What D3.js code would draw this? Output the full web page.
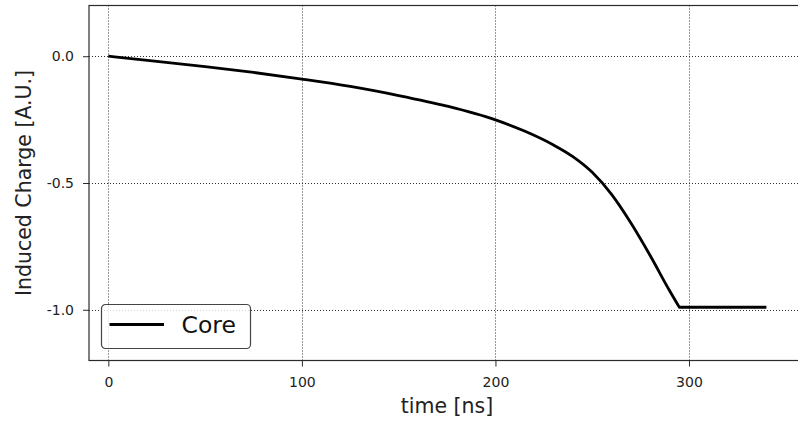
<!DOCTYPE html>
<html>
<head>
<meta charset="utf-8">
<script src="https://cdn.jsdelivr.net/npm/d3@7"></script>
<style>
  html, body { margin: 0; padding: 0; background: #fff; }
  svg { display: block; font-family: "DejaVu Sans", sans-serif; }
</style>
</head>
<body>
<svg id="chart" width="798" height="421"></svg>
<script>
// Induced charge on the core electrode vs drift time
const timeNs = [0, 25, 50, 75, 100, 125, 150, 175, 200, 215, 230, 240, 250, 260, 270, 280, 290, 295, 340];
const coreCharge = [0, -0.020, -0.041, -0.064, -0.090, -0.119, -0.155, -0.197, -0.251, -0.295, -0.350, -0.396, -0.458, -0.545, -0.658, -0.787, -0.925, -0.99, -0.99];
const seriesName = "Core";

const xTicks = [0, 100, 200, 300];
const yTicks = [0.0, -0.5, -1.0];
const xDomain = [-10, 357];
const yDomain = [-1.2, 0.2];

const plot = { left: 89, right: 799.3, top: 5.5, bottom: 360.5 };

const svg = d3.select("#chart");

const x = d3.scaleLinear().domain(xDomain).range([plot.left, plot.right]);
const y = d3.scaleLinear().domain(yDomain).range([plot.bottom, plot.top]);

const spineColor = "#2b2b2b";

// grid
const grid = svg.append("g").attr("class", "grid")
  .attr("stroke", "#000").attr("stroke-width", 1)
  .attr("stroke-dasharray", "1,2").attr("opacity", 0.8);
grid.selectAll("line.gx").data(xTicks).join("line")
  .attr("x1", d => Math.round(x(d)) + 0.5).attr("x2", d => Math.round(x(d)) + 0.5)
  .attr("y1", plot.top).attr("y2", plot.bottom);
grid.selectAll("line.gy").data(yTicks).join("line")
  .attr("y1", d => Math.round(y(d)) + 0.5).attr("y2", d => Math.round(y(d)) + 0.5)
  .attr("x1", plot.left).attr("x2", plot.right);

// data line: smooth drift section, then the flat plateau after collection
const pts = timeNs.map((t, i) => [t, coreCharge[i]]);
const kink = pts.findIndex(p => p[1] === d3.min(coreCharge));
const smooth = d3.line().x(d => x(d[0])).y(d => y(d[1])).curve(d3.curveMonotoneX);
const flat = d3.line().x(d => x(d[0])).y(d => y(d[1]));
const pathD = smooth(pts.slice(0, kink + 1)) + flat(pts.slice(kink)).replace(/^M/, "L");
svg.append("path")
  .attr("d", pathD)
  .attr("fill", "none").attr("stroke", "#000")
  .attr("stroke-width", 2.8).attr("stroke-linejoin", "round");

// axes
const xAxis = d3.axisBottom(x).tickValues(xTicks).tickFormat(d3.format("d"))
  .tickSizeInner(6).tickSizeOuter(0).tickPadding(8);
const gx = svg.append("g").attr("transform", `translate(0,${plot.bottom})`).call(xAxis);
const yAxis = d3.axisLeft(y).tickValues(yTicks).tickFormat(d => d3.format(".1f")(d).replace("−", "-"))
  .tickSizeInner(6).tickSizeOuter(0).tickPadding(9);
const gy = svg.append("g").attr("transform", `translate(${plot.left},0)`).call(yAxis);

[gx, gy].forEach(g => {
  g.select(".domain").remove();
  g.selectAll(".tick line").attr("stroke", spineColor).attr("stroke-width", 1);
  g.selectAll(".tick text").attr("fill", "#222").attr("font-size", 14)
    .attr("font-family", "DejaVu Sans, sans-serif");
});
gx.selectAll(".tick text").attr("dy", "0.9em");

// spines
svg.append("rect")
  .attr("x", plot.left).attr("y", plot.top)
  .attr("width", plot.right - plot.left).attr("height", plot.bottom - plot.top)
  .attr("fill", "none").attr("stroke", spineColor).attr("stroke-width", 1.2);

// axis labels
svg.append("text")
  .attr("x", 447).attr("y", 413)
  .attr("text-anchor", "middle").attr("font-size", 20.5).attr("fill", "#222")
  .text("time [ns]");
svg.append("text")
  .attr("transform", `translate(31,${(plot.top + plot.bottom) / 2}) rotate(-90)`)
  .attr("text-anchor", "middle").attr("font-size", 20.5).attr("fill", "#222")
  .text("Induced Charge [A.U.]");

// legend
const lg = svg.append("g").attr("transform", "translate(101,304)");
lg.append("rect")
  .attr("x", 0.5).attr("y", 0.5).attr("width", 149).attr("height", 44)
  .attr("rx", 4).attr("ry", 4)
  .attr("fill", "#fff").attr("fill-opacity", 0.8)
  .attr("stroke", "#444").attr("stroke-width", 1.2);
lg.append("line")
  .attr("x1", 8.5).attr("x2", 63).attr("y1", 20.5).attr("y2", 20.5)
  .attr("stroke", "#000").attr("stroke-width", 2.8);
lg.append("text")
  .attr("x", 80.5).attr("y", 28.5)
  .attr("font-size", 23.5).attr("fill", "#111")
  .text(seriesName);
</script>
</body>
</html>
